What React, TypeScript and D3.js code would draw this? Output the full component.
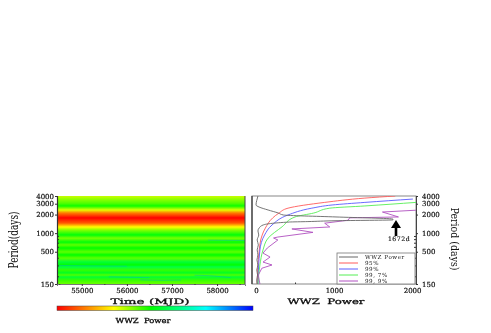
import * as React from 'react';
import { useEffect, useRef } from 'react';
import * as d3 from 'd3';

const periodTicks = [4000, 3000, 2000, 1000, 500, 150];
const periodMinor = [900, 800, 700, 600, 400, 300, 200];
const timeTicks = [55000, 56000, 57000, 58000];
const timeMinor = [54500, 55500, 56500, 57500, 58500];
const powerTicks = [0, 1000, 2000];
const powerMinor = [500, 1500];

// colour level of the heatmap rows, 0 = red end of the bar, 1 = blue end
const bandPeriods = [4000, 3570, 3050, 2760, 2373, 2122, 1770, 1460, 1260, 1125, 935, 830, 715, 645, 575, 495, 444, 395, 340, 305, 284, 253, 227, 210, 195, 174, 150];
const bandLevels = [0.33, 0.37, 0.42, 0.47, 0.31, 0.14, 0.0, 0.1, 0.29, 0.38, 0.49, 0.39, 0.49, 0.41, 0.48, 0.41, 0.48, 0.41, 0.54, 0.48, 0.56, 0.44, 0.52, 0.42, 0.54, 0.44, 0.4];

const colorStops = [0, 0.29, 0.48, 0.76, 1];
const colorValues = ['#ff0000', '#ffff00', '#00ff00', '#00ffff', '#0000ff'];

// weak ridges in the heatmap that change with time
const ridgeA = { time: [57800, 58200, 58620], period: [770, 765, 760] };
const ridgeB = { time: [54500, 55000, 55500, 56000], period: [300, 296, 294, 292] };
const ridgeC = { time: [55600, 56000, 56500], period: [196, 193, 190] };
const ridgeD = { time: [57500, 57900, 58300], period: [208, 203, 190] };
const ridgeE = { time: [56300, 56800, 57200], period: [175, 172, 174] };

const blackPeriods = [4000, 3400, 2860, 2650, 2373, 2122, 1970, 1830, 1690, 1640, 1590, 1540, 1515, 1355, 1210, 1085, 935, 775, 645, 535, 444, 368, 305, 253, 210, 174, 150];
const blackPower = [25, 10, 0, 40, 155, 285, 350, 1025, 1755, 1755, 1025, 665, 430, 90, 40, 25, 35, 15, 30, 15, 25, 12, 25, 10, 20, 10, 15];

const redPeriods = [4000, 3700, 3150, 2540, 2120, 1770, 1210, 775, 505, 150];
const redPower = [1785, 1395, 880, 410, 295, 215, 120, 60, 40, 15];

const bluePeriods = [3570, 3150, 2860, 2540, 1970, 1355, 935, 535, 150];
const bluePower = [2010, 1395, 975, 715, 410, 205, 110, 50, 25];

const greenPeriods = [3150, 2760, 2540, 2120, 1830, 1270, 830, 535, 305, 150];
const greenPower = [2050, 1395, 945, 740, 500, 335, 155, 90, 50, 25];

const purplePeriods = [2500, 2373, 2200, 1830, 1770, 1620, 1450, 1260, 1170, 1030, 865, 835, 775, 575, 475, 410, 340, 305, 270, 210, 150];
const purplePower = [2350, 2100, 1620, 1825, 1200, 1180, 880, 945, 460, 730, 280, 225, 280, 145, 90, 180, 90, 205, 75, 30, 50];

const legendLabels = ['WWZ Power', '95%', '99%', '99, 7%', '99, 9%'];
const legendColors = ['#666666', '#ff5a5a', '#5a5aff', '#55ee55', '#b050c0'];

const FONT = '"DejaVu Serif", serif';

export default function App() {
  const ref = useRef<SVGSVGElement>(null);

  useEffect(() => {
    const svg = d3.select(ref.current);
    svg.selectAll('*').remove();

    const top = 196, bottom = 284;
    const left1 = 57, right1 = 245;
    const left2 = 252, right2 = 416;

    const y = d3.scaleLog().domain([150, 4000]).range([bottom, top]);
    const x = d3.scaleLinear().domain([54450, 58620]).range([left1, right1]);
    const p = d3.scaleLinear().domain([0, 2050]).range([256, 416]);
    const color = d3.scaleLinear<string>().domain(colorStops).range(colorValues);

    const defs = svg.append('defs');
    const rows = defs.append('linearGradient').attr('id', 'rows')
      .attr('gradientUnits', 'userSpaceOnUse')
      .attr('x1', 0).attr('x2', 0).attr('y1', top).attr('y2', bottom);
    bandPeriods.forEach((d, i) => {
      rows.append('stop')
        .attr('offset', (y(d) - top) / (bottom - top))
        .attr('stop-color', color(bandLevels[i]));
    });
    const bar = defs.append('linearGradient').attr('id', 'bar');
    colorStops.forEach((d, i) => {
      bar.append('stop').attr('offset', d).attr('stop-color', colorValues[i]);
    });
    defs.append('clipPath').attr('id', 'panel2').append('rect')
      .attr('x', left2).attr('y', top).attr('width', right2 - left2).attr('height', bottom - top);
    defs.append('clipPath').attr('id', 'panel1').append('rect')
      .attr('x', left1).attr('y', top).attr('width', right1 - left1).attr('height', bottom - top);

    // heatmap
    svg.append('rect')
      .attr('x', left1).attr('y', top)
      .attr('width', right1 - left1).attr('height', bottom - top)
      .attr('fill', 'url(#rows)');
    const ridgeLine = d3.line<any>().curve(d3.curveMonotoneX);
    [ridgeA, ridgeB, ridgeC, ridgeD, ridgeE].forEach((r) => {
      svg.append('path')
        .attr('clip-path', 'url(#panel1)')
        .attr('d', ridgeLine(r.time.map((t, i) => [x(t), y(r.period[i])])))
        .attr('fill', 'none')
        .attr('stroke', '#00b4c8')
        .attr('stroke-width', 0.8)
        .attr('opacity', 0.55);
    });

    const styleAxis = (g: any) => {
      g.selectAll('text')
        .attr('font-family', FONT).attr('font-size', 7).attr('fill', '#111')
        .attr('stroke', '#111').attr('stroke-width', 0.2);
      g.selectAll('line').attr('stroke', '#333');
    };
    const fmt = (d: any) => String(d);

    // left panel axes
    svg.append('g').attr('transform', `translate(${left1},0)`)
      .call(d3.axisLeft(y).tickValues(periodTicks).tickSize(2).tickPadding(1).tickFormat(fmt))
      .call(styleAxis).select('.domain').attr('stroke', '#333').attr('stroke-width', 1.2);
    svg.append('g').attr('transform', `translate(${left1},0)`)
      .call(d3.axisRight(y).tickValues(periodMinor).tickSize(2).tickFormat(() => ''))
      .call(styleAxis).select('.domain').remove();
    svg.append('g').attr('transform', `translate(0,${bottom})`)
      .call(d3.axisBottom(x).tickValues(timeTicks).tickSize(2).tickPadding(2).tickFormat(fmt))
      .call(styleAxis).select('.domain').attr('stroke', '#777');
    svg.append('g').attr('transform', `translate(0,${bottom})`)
      .call(d3.axisBottom(x).tickValues(timeMinor).tickSize(1).tickFormat(() => ''))
      .call(styleAxis).select('.domain').remove();
    svg.append('line').attr('x1', right1).attr('x2', right1).attr('y1', top).attr('y2', bottom)
      .attr('stroke', '#444');

    // right panel
    svg.append('rect')
      .attr('x', left2).attr('y', top)
      .attr('width', right2 - left2).attr('height', bottom - top)
      .attr('fill', 'none').attr('stroke', '#888');
    svg.append('line').attr('x1', left2).attr('x2', left2).attr('y1', top).attr('y2', bottom)
      .attr('stroke', '#333').attr('stroke-width', 1.2);

    const smooth = d3.line<[number, number]>().curve(d3.curveMonotoneY);
    const straight = d3.line<[number, number]>();
    const series = [
      { periods: redPeriods, power: redPower, color: legendColors[1], line: smooth },
      { periods: bluePeriods, power: bluePower, color: legendColors[2], line: smooth },
      { periods: greenPeriods, power: greenPower, color: legendColors[3], line: smooth },
      { periods: purplePeriods, power: purplePower, color: legendColors[4], line: straight },
      { periods: blackPeriods, power: blackPower, color: legendColors[0], line: smooth },
    ];
    series.forEach((s) => {
      svg.append('path')
        .attr('clip-path', 'url(#panel2)')
        .attr('d', s.line(s.periods.map((d, i) => [p(s.power[i]), y(d)] as [number, number])))
        .attr('fill', 'none')
        .attr('stroke', s.color)
        .attr('stroke-width', 0.9);
    });

    svg.append('g').attr('transform', `translate(0,${bottom})`)
      .call(d3.axisBottom(p).tickValues(powerTicks).tickSize(0).tickPadding(4).tickFormat(fmt))
      .call(styleAxis).select('.domain').remove();
    svg.append('g').attr('transform', `translate(0,${bottom})`)
      .call(d3.axisTop(p).tickValues(powerMinor).tickSize(1.5).tickFormat(() => ''))
      .call(styleAxis).select('.domain').remove();
    svg.append('g').attr('transform', `translate(${right2},0)`)
      .call(d3.axisRight(y).tickValues(periodTicks).tickSize(2).tickPadding(4).tickFormat(fmt))
      .call(styleAxis).select('.domain').attr('stroke', '#444');
    svg.append('g').attr('transform', `translate(${right2},0)`)
      .call(d3.axisLeft(y).tickValues(periodMinor).tickSize(2).tickFormat(() => ''))
      .call(styleAxis).select('.domain').remove();

    // legend
    const lg = svg.append('g');
    lg.append('rect').attr('x', 337).attr('y', 253).attr('width', 78).attr('height', 31)
      .attr('fill', '#fff').attr('stroke', '#777').attr('stroke-width', 0.8);
    legendLabels.forEach((d, i) => {
      const ly = 257 + i * 6;
      lg.append('line').attr('x1', 339).attr('x2', 358).attr('y1', ly).attr('y2', ly)
        .attr('stroke', legendColors[i]).attr('stroke-width', 1);
      lg.append('text').attr('x', 365).attr('y', ly + 2)
        .attr('font-family', FONT).attr('font-size', 5.6).attr('fill', '#222')
        .attr('letter-spacing', 0.55).text(d);
    });

    // peak arrow
    svg.append('line').attr('x1', 396).attr('x2', 396).attr('y1', 236).attr('y2', 226)
      .attr('stroke', '#000').attr('stroke-width', 2.6);
    svg.append('path').attr('d', d3.line()([[391, 228], [396, 220], [401, 228]]) + 'Z').attr('fill', '#000');
    svg.append('text').attr('x', 399).attr('y', 240.5).attr('text-anchor', 'middle')
      .attr('font-family', FONT).attr('font-size', 6.2).attr('fill', '#111')
      .attr('stroke', '#111').attr('stroke-width', 0.15)
      .attr('letter-spacing', 0.5).text('1672d');

    // colour bar
    svg.append('rect').attr('x', 57).attr('y', 306).attr('width', 196).attr('height', 4.5)
      .attr('fill', 'url(#bar)').attr('stroke', '#444').attr('stroke-width', 0.5);

    // titles
    const label = (txt: string, cx: number, cy: number, size: number, len: number, rot = 0, bold = 0.3) => {
      svg.append('text')
        .attr('transform', `translate(${cx},${cy}) rotate(${rot})`)
        .attr('text-anchor', 'middle')
        .attr('font-family', FONT).attr('font-size', size)
        .attr('textLength', len).attr('lengthAdjust', 'spacingAndGlyphs')
        .attr('fill', '#111').attr('stroke', '#111').attr('stroke-width', bold)
        .text(txt);
    };
    label('Time\u00a0(MJD)', 150, 304, 7.5, 79);
    label('WWZ\u00a0\u00a0Power', 143, 323, 7, 55);
    label('WWZ\u00a0\u00a0Power', 326, 304, 7.5, 77);
    label('Period(days)', 18, 240, 13, 57, -90, 0);
    label('Period (days)', 451, 239, 11, 63, 90, 0);
  }, []);

  return (
    <svg
      ref={ref}
      width={491}
      height={333}
      style={{ position: 'absolute', left: 0, top: 0, background: '#fff', filter: 'blur(0.25px)' }}
    />
  );
}
